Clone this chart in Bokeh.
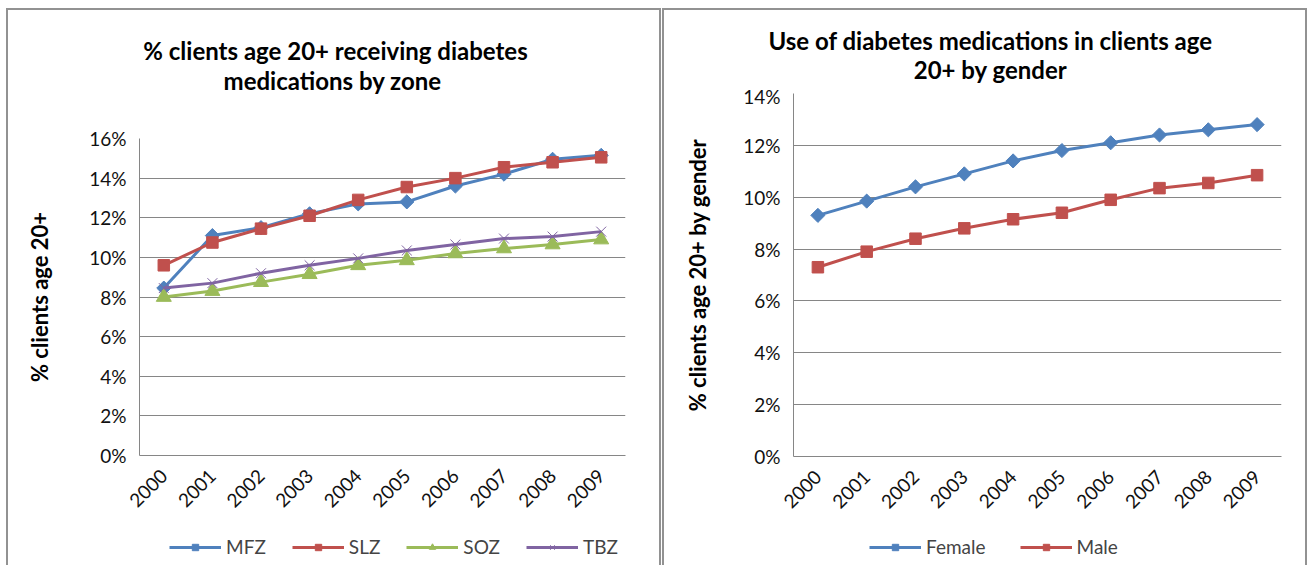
import math
from bokeh.plotting import figure
from bokeh.models import (FactorRange, Range1d, Label, Legend, LegendItem,
                          PrintfTickFormatter, FixedTicker, ColumnDataSource)
from bokeh.layouts import row, column
from bokeh.embed import file_html
from bokeh.resources import INLINE

# ---------------- data ----------------
years = ["2000", "2001", "2002", "2003", "2004", "2005", "2006", "2007", "2008", "2009"]

# % clients age 20+ receiving diabetes medications by zone
mfz = [8.45, 11.1, 11.5, 12.2, 12.7, 12.8, 13.6, 14.2, 14.95, 15.15]
slz = [9.6, 10.75, 11.45, 12.1, 12.9, 13.55, 14.0, 14.55, 14.8, 15.05]
soz = [8.0, 8.3, 8.75, 9.15, 9.6, 9.85, 10.2, 10.45, 10.65, 10.9]
tbz = [8.45, 8.7, 9.2, 9.6, 9.95, 10.35, 10.65, 10.95, 11.05, 11.3]

# Use of diabetes medications in clients age 20+ by gender
female = [9.3, 9.85, 10.4, 10.9, 11.4, 11.8, 12.1, 12.4, 12.6, 12.8]
male = [7.3, 7.9, 8.4, 8.8, 9.15, 9.4, 9.9, 10.35, 10.55, 10.85]

left_title = ["% clients age 20+ receiving diabetes", "medications  by zone"]
right_title = ["Use of diabetes medications in clients age", "20+ by gender"]
left_ylabel = "% clients age 20+"
right_ylabel = "% clients age 20+ by gender"

BLUE = "#4F81BD"
RED = "#C0504D"
GREEN = "#9BBB59"
PURPLE = "#8064A2"
GRID = "#868686"
FRAME = "2px solid #929292"
FONT = "Lato"


def no_align(p):
    if hasattr(p, "frame_align"):
        p.frame_align = False


def blank_fig(width, height, styles):
    # a figure whose plotting frame is its whole canvas (no axes, no borders)
    p = figure(width=width, height=height, x_range=Range1d(0, width),
               y_range=Range1d(height, 0), x_axis_type=None, y_axis_type=None,
               output_backend="svg", toolbar_location=None,
               min_border_left=0, min_border_right=0, min_border_top=0,
               min_border_bottom=0)
    no_align(p)
    p.outline_line_color = None
    p.background_fill_color = "white"
    p.border_fill_color = "white"
    p.styles = styles
    return p


def title_fig(width, height, lines, cx, ys):
    p = blank_fig(width, height, {"border-top": FRAME, "border-left": FRAME,
                                  "border-right": FRAME})
    for txt, y in zip(lines, ys):
        p.add_layout(Label(x=cx, y=y, text=txt, text_align="center",
                           text_baseline="middle", text_font=FONT,
                           text_font_style="bold", text_font_size="24px",
                           text_color="#000000"))
    return p


def main_fig(width, height, ymax, bl, br, bt, bb, ylabel, lab_standoff):
    p = figure(width=width, height=height, x_range=FactorRange(*years),
               y_range=Range1d(0, ymax), output_backend="svg",
               toolbar_location=None, min_border_left=bl, min_border_right=br,
               min_border_top=bt, min_border_bottom=bb)
    no_align(p)
    p.styles = {"border-left": FRAME, "border-right": FRAME}
    p.outline_line_color = None
    p.background_fill_color = "white"
    p.border_fill_color = "white"
    p.xgrid.grid_line_color = None
    p.ygrid.grid_line_color = GRID
    p.ygrid.grid_line_width = 1
    p.yaxis.ticker = FixedTicker(ticks=list(range(0, ymax + 1, 2)))
    p.yaxis.formatter = PrintfTickFormatter(format="%d%%")
    for ax in (p.xaxis[0], p.yaxis[0]):
        ax.axis_line_color = GRID
        ax.major_tick_line_color = None
        ax.minor_tick_line_color = None
        ax.major_label_text_font = FONT
        ax.major_label_text_color = "#111111"
    p.xaxis.major_label_orientation = math.pi / 4
    p.xaxis.major_label_text_font_size = "19px"
    p.xaxis.major_label_standoff = 11
    p.yaxis.major_label_text_font_size = "19px"
    p.yaxis.major_label_standoff = 7
    p.yaxis.axis_label = ylabel
    p.yaxis.axis_label_text_font = FONT
    p.yaxis.axis_label_text_font_style = "bold"
    p.yaxis.axis_label_text_font_size = "22px"
    p.yaxis.axis_label_text_color = "#000000"
    p.yaxis.axis_label_standoff = lab_standoff
    p.x_range.range_padding = 0
    return p


SERIES_STYLE = {
    "MFZ": (BLUE, "square", 10, math.pi / 4, 6, True),
    "SLZ": (RED, "square", 11.5, 0.0, 8, True),
    "SOZ": (GREEN, "triangle", 15, 0.0, 9, True),
    "TBZ": (PURPLE, "x", 14, 0.0, 10, False),
    "Female": (BLUE, "square", 10, math.pi / 4, 6, True),
    "Male": (RED, "square", 11.5, 0.0, 8, True),
}


def add_series(p, name, vals):
    color, marker, size, angle, _, fill = SERIES_STYLE[name]
    src = ColumnDataSource(dict(x=years, y=vals))
    p.line("x", "y", source=src, line_color=color, line_width=3)
    p.scatter("x", "y", source=src, marker=marker, size=size, angle=angle,
              fill_color=color if fill else None, line_color=color, line_width=1)


def legend_fig(width, height, series, loc, spacing):
    p = blank_fig(width, height, {"border-left": FRAME, "border-right": FRAME})
    items = []
    for name, vals in series:
        color, marker, _, angle, lsize, fill = SERIES_STYLE[name]
        # same values, no x positions: nothing is drawn in this strip, only the key
        src = ColumnDataSource(dict(x=[float("nan")] * len(vals), y=vals))
        lr = p.line("x", "y", source=src, line_color=color, line_width=3)
        sr = p.scatter("x", "y", source=src, marker=marker, size=lsize, angle=angle,
                       fill_color=color if fill else None, line_color=color,
                       line_width=1)
        items.append(LegendItem(label=name, renderers=[lr, sr]))
    p.add_layout(Legend(items=items, orientation="horizontal", location=loc,
                        glyph_width=52, glyph_height=16, label_standoff=5,
                        spacing=spacing, padding=0, margin=0,
                        label_text_font=FONT, label_text_font_size="19px",
                        border_line_color=None, background_fill_alpha=0))
    return p


# ---------------- left chart ----------------
left_series = [("MFZ", mfz), ("SLZ", slz), ("SOZ", soz), ("TBZ", tbz)]
t1 = title_fig(655, 102, left_title, 327, [40, 70])
p1 = main_fig(655, 418, 16, 131, 38, 28, 73, left_ylabel, 33)
for name, vals in left_series:
    add_series(p1, name, vals)
l1 = legend_fig(655, 37, left_series, (161, 7), 26)

# ---------------- right chart ----------------
right_series = [("Female", female), ("Male", male)]
t2 = title_fig(645, 76, right_title, 326, [30, 59])
p2 = main_fig(645, 444, 14, 129, 28, 9, 72, right_ylabel, 29)
for name, vals in right_series:
    add_series(p2, name, vals)
l2 = legend_fig(645, 37, right_series, (205, 7), 34)

col1 = column(t1, p1, l1, margin=(8, 0, 0, 6))
col2 = column(t2, p2, l2, margin=(8, 0, 0, 1))
layout = row(col1, col2)
open("out.html", "w").write(file_html(layout, INLINE))
